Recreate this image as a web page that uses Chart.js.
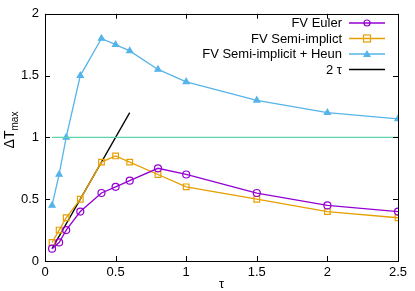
<!DOCTYPE html>
<html>
<head>
<meta charset="utf-8">
<script src="https://cdn.jsdelivr.net/npm/chart.js@4"></script>
<style>
  html, body { margin: 0; padding: 0; background: #fff; }
  #wrap { width: 415px; height: 291px; }
</style>
</head>
<body>
<div id="wrap"><canvas id="lineChart" width="415" height="291"></canvas></div>
<script>
// Data
const tau = [0.05, 0.1, 0.15, 0.25, 0.4, 0.5, 0.6, 0.8, 1.0, 1.5, 2.0, 2.5];
const euler = [0.1, 0.15, 0.25, 0.4, 0.55, 0.6, 0.65, 0.75, 0.7, 0.55, 0.45, 0.4];
const semiImplicit = [0.15, 0.25, 0.35, 0.5, 0.8, 0.85, 0.8, 0.7, 0.6, 0.5, 0.4, 0.35];
const heun = [0.45, 0.7, 1.0, 1.5, 1.8, 1.75, 1.7, 1.55, 1.45, 1.3, 1.2, 1.15];
const twoTauX = [0.05, 0.6];
const twoTauY = [0.1, 1.2];
const limitX = [0.05, 2.5];
const limitY = [1, 1];
const xTicks = [0, 0.5, 1, 1.5, 2, 2.5];
const yTicks = [0, 0.5, 1, 1.5, 2];

const FONT = '"Liberation Sans", Arial, sans-serif';

function pts(xs, ys) {
    return xs.map((x, i) => ({ x: x, y: ys[i] }));
}

const series = [
    { label: 'FV Euler', data: pts(tau, euler), color: '#9400d3', style: 'circle', fill: false },
    { label: 'FV Semi-implict', data: pts(tau, semiImplicit), color: '#e69f00', style: 'rect', fill: false },
    { label: 'FV Semi-implicit + Heun', data: pts(tau, heun), color: '#56b4e9', style: 'triangle', fill: true },
    { label: '2 \u03c4', data: pts(twoTauX, twoTauY), color: '#000000', style: null, fill: false }
];

const datasets = series.map(s => ({
    label: s.label,
    data: s.data,
    showLine: true,
    borderColor: s.color,
    backgroundColor: s.fill ? s.color : 'rgba(0,0,0,0)',
    borderWidth: 1.3,
    pointStyle: s.style || 'circle',
    pointRadius: s.style ? (s.style === 'rect' ? 4 : 3.5) : 0,
    pointBorderWidth: 1.2,
    pointBorderColor: s.color,
    pointBackgroundColor: s.fill ? s.color : 'rgba(0,0,0,0)',
    tension: 0
}));

// horizontal reference line at 1
datasets.unshift({
    label: 'limit',
    data: pts(limitX, limitY),
    showLine: true,
    borderColor: '#5fd3ac',
    borderWidth: 1.3,
    pointRadius: 0,
    tension: 0
});

// box, inward ticks, axis titles and gnuplot-style legend
const framePlugin = {
    id: 'frame',
    afterDraw(chart) {
        const ctx = chart.ctx;
        const a = chart.chartArea;
        const xs = chart.scales.x, ys = chart.scales.y;
        ctx.save();
        ctx.strokeStyle = '#000';
        ctx.lineWidth = 1;
        ctx.strokeRect(Math.round(a.left) + 0.5, Math.round(a.top) + 0.5,
            Math.round(a.right - a.left), Math.round(a.bottom - a.top));
        ctx.beginPath();
        xTicks.forEach(v => {
            const px = Math.round(xs.getPixelForValue(v)) + 0.5;
            ctx.moveTo(px, a.bottom); ctx.lineTo(px, a.bottom - 5);
            ctx.moveTo(px, a.top); ctx.lineTo(px, a.top + 5);
        });
        yTicks.forEach(v => {
            const py = Math.round(ys.getPixelForValue(v)) + 0.5;
            ctx.moveTo(a.left, py); ctx.lineTo(a.left + 5, py);
            ctx.moveTo(a.right, py); ctx.lineTo(a.right - 5, py);
        });
        ctx.stroke();

        // x title
        ctx.fillStyle = '#000';
        ctx.font = '13px ' + FONT;
        ctx.textAlign = 'center';
        ctx.textBaseline = 'middle';
        ctx.fillText('\u03c4', (a.left + a.right) / 2, 284);

        // y title with subscript
        ctx.save();
        ctx.translate(14, 130);
        ctx.rotate(-Math.PI / 2);
        ctx.textBaseline = 'alphabetic';
        ctx.textAlign = 'left';
        ctx.font = '14px ' + FONT;
        const w1 = ctx.measureText('\u0394T').width;
        ctx.font = '10px ' + FONT;
        const w2 = ctx.measureText('max').width;
        const x0 = -(w1 + w2) / 2;
        ctx.font = '14px ' + FONT;
        ctx.fillText('\u0394T', x0, 0);
        ctx.font = '10px ' + FONT;
        ctx.fillText('max', x0 + w1, 3.5);
        ctx.restore();

        // legend
        const rows = [23, 38.5, 54, 69.5];
        ctx.font = '13px ' + FONT;
        ctx.textAlign = 'right';
        ctx.textBaseline = 'middle';
        series.forEach((s, i) => {
            const y = rows[i];
            ctx.fillStyle = '#000';
            ctx.fillText(s.label, 342, y + 0.5);
            ctx.strokeStyle = s.color;
            ctx.lineWidth = 1.3;
            ctx.beginPath();
            ctx.moveTo(349, y); ctx.lineTo(385, y);
            ctx.stroke();
            if (s.style) {
                ctx.lineWidth = 1.2;
                const cx = 367;
                ctx.beginPath();
                if (s.style === 'circle') {
                    ctx.arc(cx, y, 3, 0, Math.PI * 2);
                    ctx.stroke();
                } else if (s.style === 'rect') {
                    ctx.strokeRect(cx - 3.5, y - 3.5, 7, 7);
                } else {
                    ctx.moveTo(cx, y - 4); ctx.lineTo(cx + 4, y + 3); ctx.lineTo(cx - 4, y + 3);
                    ctx.closePath();
                    ctx.fillStyle = s.color;
                    ctx.fill();
                }
            }
        });
        ctx.restore();
    }
};

const chartConfig = {
    type: 'scatter',
    data: { datasets: datasets },
    options: {
        responsive: false,
        animation: false,
        layout: { padding: { top: 11, right: 17, left: 0, bottom: 0 } },
        plugins: { legend: { display: false }, tooltip: { enabled: false } },
        scales: {
            x: {
                type: 'linear',
                min: 0, max: 2.5,
                afterFit: s => { s.height = 30; },
                afterBuildTicks: s => { s.ticks = xTicks.map(v => ({ value: v })); },
                grid: { display: false, drawTicks: false },
                border: { display: false },
                ticks: {
                    color: '#000', padding: 4,
                    font: { family: FONT, size: 13 },
                    maxRotation: 0,
                    callback: v => String(v)
                }
            },
            y: {
                type: 'linear',
                min: 0, max: 2,
                afterFit: s => { s.width = 45; },
                afterBuildTicks: s => { s.ticks = yTicks.map(v => ({ value: v })); },
                grid: { display: false, drawTicks: false },
                border: { display: false },
                ticks: {
                    color: '#000', padding: 6,
                    font: { family: FONT, size: 13 },
                    callback: v => String(v)
                }
            }
        }
    },
    plugins: [framePlugin]
};

const ctx = document.getElementById('lineChart').getContext('2d');
new Chart(ctx, chartConfig);
</script>
</body>
</html>
